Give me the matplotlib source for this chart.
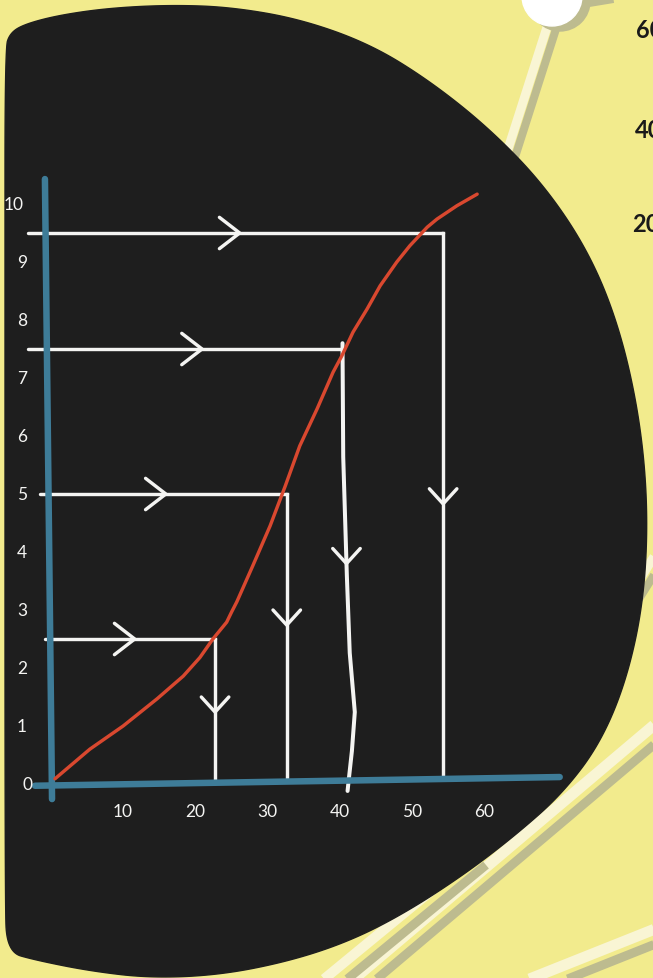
import numpy as np
import matplotlib
matplotlib.use('Agg')
import matplotlib.pyplot as plt
from matplotlib.patches import Polygon, Circle

# ---- chart data ----
curve_x = [0.69, 5.5, 10.1, 14.8, 18.4, 20.7, 22.5, 24.4, 25.1, 25.8, 28.0,
           30.4, 32.5, 34.5, 36.9, 39.1, 40.3, 41.85, 43.8, 45.6, 47.9, 49.7,
           52.1, 53.45, 56.2, 59.0]
curve_y = [0.09, 0.6, 1.0, 1.47, 1.86, 2.18, 2.5, 2.79, 2.97, 3.14, 3.76,
           4.45, 5.14, 5.83, 6.47, 7.1, 7.38, 7.79, 8.19, 8.59, 9.0, 9.28,
           9.6, 9.74, 9.97, 10.17]

level_y = [2.5, 5.0, 7.5, 9.5]          # horizontal guide lines
level_start = [-0.7, -1.38, -3.04, -3.04]
drop_x = [22.8, 32.7, 40.4, 54.3]       # where each guide meets the curve
right_arrow_x = [11.7, 16.0, 21.0, 26.2]
down_arrow_y = [1.24, 2.74, 3.8, 4.83]

# the third drop line is drawn freehand and wobbles
wobble_x = [40.4, 40.5, 41.0, 41.4, 42.1, 41.7, 41.2, 41.1]
wobble_y = [7.6, 5.64, 3.6, 2.26, 1.24, 0.57, 0.0, -0.12]

x_ticks = [10, 20, 30, 40, 50, 60]
y_ticks = list(range(0, 11))
side_labels = ['60', '40', '20']

YELLOW = '#F2EB8D'
BLACK = '#1E1E1E'
BLUE = '#3E7C98'
RED = '#D9482F'
WHITE = '#F4F4F2'
CREAM = '#F9F5D4'
SHADE = '#BDBB8F'

W, H = 653, 979
fig = plt.figure(figsize=(W / 100, H / 100), dpi=100)
fig.patch.set_facecolor(YELLOW)

# ---- background decoration in pixel units ----
bg = fig.add_axes([0, 0, 1, 1])
bg.set_xlim(0, W)
bg.set_ylim(H, 0)
bg.axis('off')
bg.set_facecolor(YELLOW)


def px(v):
    return v * 0.72  # pixels -> points


def stripe(p0, p1, off, w_cream, w_shade):
    (x0, y0), (x1, y1) = p0, p1
    bg.plot([x0 + off[0], x1 + off[0]], [y0 + off[1], y1 + off[1]],
            color=SHADE, lw=px(w_shade), solid_capstyle='butt', zorder=1)
    bg.plot([x0, x1], [y0, y1], color=CREAM, lw=px(w_cream),
            solid_capstyle='butt', zorder=1)


stripe((548, 25), (460, 300), (9, 2), 9, 8)
stripe((575, -2), (660, -16), (2, 8), 8, 8)
stripe((660, 548), (590, 660), (9, 4), 9, 8)
stripe((660, 721), (355, 979), (16, 6), 11, 9)
stripe((470, 860), (318, 985), (16, 6), 10, 9)
stripe((660, 928), (517, 985), (8, 12), 11, 9)

bg.add_patch(Circle((560, 2), 30, color=SHADE, zorder=2))
bg.add_patch(Circle((552, -3), 30, color='white', zorder=2))


def chaikin(pts, n=4):
    p = np.asarray(pts, float)
    for _ in range(n):
        q = np.roll(p, -1, axis=0)
        new = np.empty((2 * len(p), 2))
        new[0::2] = 0.75 * p + 0.25 * q
        new[1::2] = 0.25 * p + 0.75 * q
        p = new
    return p


outline = [(5, 50), (10, 34), (25, 25), (60, 16), (110, 9), (170, 6), (230, 8),
           (300, 20), (370, 45), (430, 82), (490, 130), (545, 187), (590, 255),
           (620, 330), (640, 420), (648, 510), (644, 600), (627, 680), (600, 745),
           (562, 795), (517, 835), (465, 875), (405, 914), (350, 942), (290, 962),
           (220, 976), (150, 979), (90, 972), (35, 961), (7, 953), (5, 900), (5, 300)]
bg.add_patch(Polygon(chaikin(outline), closed=True, color=BLACK, zorder=3))

side_y = [30, 130, 225]
side_x = [636, 635, 632]
for lab, xx, yy in zip(side_labels, side_x, side_y):
    bg.text(xx, yy, lab, color='#1A1A1A', fontsize=17, family='Lato',
            fontweight='bold', ha='left', va='center', zorder=4)

# ---- the chart itself, in data units ----
ax = fig.add_axes([0, 0, 1, 1])
ax.patch.set_alpha(0)
ax.axis('off')
ax.set_xlim(-50 / 7.24, 603 / 7.24)
ax.set_ylim((785 - H) / 58, 785 / 58)

# freehand axes
ax.plot([-0.7, 0.28], [10.43, -0.26], color=BLUE, lw=px(6.5),
        solid_capstyle='round', zorder=5)
ax.plot([-2.07, 70.4], [-0.03, 0.12], color=BLUE, lw=px(6.5),
        solid_capstyle='round', zorder=5)

lw_w = px(3.4)
ax_dx, ax_dy = 2.8, 0.27   # right chevron size
dn_dx, dn_dy = 1.9, 0.26   # down chevron size
for i, yl in enumerate(level_y):
    ax.plot([level_start[i], drop_x[i]], [yl, yl], color=WHITE, lw=lw_w,
            solid_capstyle='round', zorder=4)
    tx = right_arrow_x[i]
    ax.plot([tx - ax_dx, tx, tx - ax_dx], [yl + ax_dy, yl, yl - ax_dy],
            color=WHITE, lw=lw_w, solid_capstyle='round',
            solid_joinstyle='round', zorder=4)
    if i == 2:
        ax.plot(wobble_x, wobble_y, color=WHITE, lw=px(4), zorder=4,
                solid_capstyle='round')
        cx = np.interp(down_arrow_y[i], wobble_y[::-1], wobble_x[::-1])
    else:
        ax.plot([drop_x[i], drop_x[i]], [yl, 0.1], color=WHITE, lw=lw_w,
                zorder=4)
        cx = drop_x[i]
    ty = down_arrow_y[i]
    ax.plot([cx - dn_dx, cx, cx + dn_dx], [ty + dn_dy, ty, ty + dn_dy],
            color=WHITE, lw=lw_w, solid_capstyle='round',
            solid_joinstyle='round', zorder=4)

ax.plot(curve_x, curve_y, color=RED, lw=px(3.4), solid_capstyle='round',
        solid_joinstyle='round', zorder=6)

for t in x_ticks:
    ax.text(t, -0.47, str(t), color=WHITE, fontsize=12.5, family='Lato',
            ha='center', va='center', zorder=6)
for t in y_ticks:
    xx = -4.97 if t == 10 else (-3.04 if t == 0 else -3.87)
    ax.text(xx, t, str(t), color=WHITE, fontsize=12.5, family='Lato',
            ha='center', va='center', zorder=6)

fig.savefig('out.png', dpi=100, facecolor=YELLOW)
